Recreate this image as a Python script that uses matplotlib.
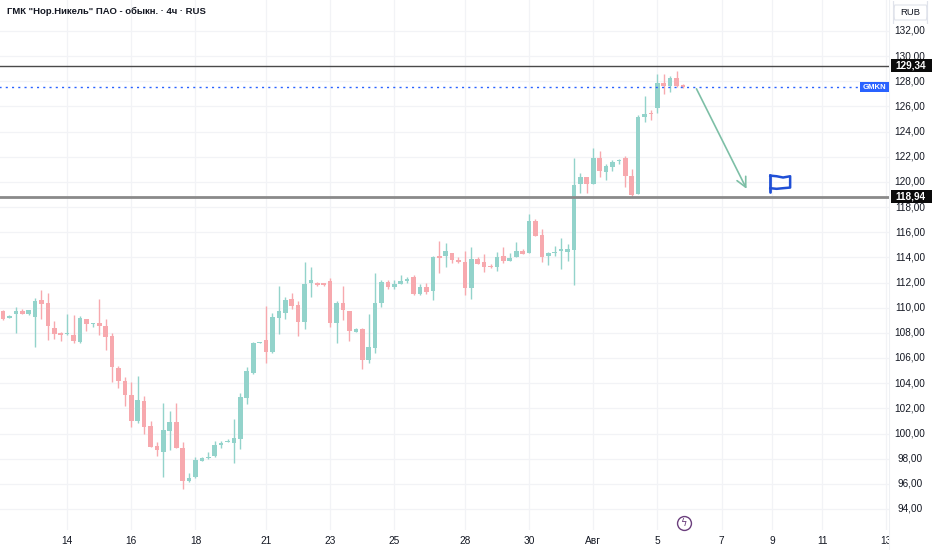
import matplotlib
matplotlib.use("Agg")
import matplotlib.pyplot as plt
from matplotlib.patches import Rectangle, FancyBboxPatch

plt.rcParams['font.family'] = ['Liberation Sans', 'DejaVu Sans']

# 4h candles, GMKN
opens = [109.77, 109.20, 109.53, 109.74, 109.50, 109.29, 110.62, 110.35, 108.39, 107.97,
         107.90, 107.86, 107.28, 109.08, 108.74, 108.81, 108.55, 107.76, 105.21, 104.20,
         103.07, 101.00, 102.60, 100.60, 99.01, 98.56, 100.23, 100.92, 98.88, 96.23,
         96.52, 97.84, 98.03, 98.24, 99.09, 99.32, 99.27, 99.57, 102.85, 104.84,
         107.20, 107.44, 106.51, 109.21, 109.56, 110.67, 110.22, 108.85, 111.99, 111.97,
         111.95, 112.15, 108.76, 110.40, 109.72, 108.07, 108.29, 105.85, 106.83, 110.35,
         112.05, 111.63, 111.87, 112.10, 112.47, 111.10, 111.63, 111.36, 114.11, 114.11,
         114.33, 113.80, 113.66, 111.60, 113.90, 113.61, 113.32, 113.26, 114.11, 113.74,
         114.06, 114.54, 114.38, 116.87, 115.78, 114.11, 114.36, 114.54, 114.46, 114.59,
         119.81, 120.42, 119.84, 121.88, 120.82, 121.16, 121.66, 121.88, 120.50, 119.02,
         125.14, 125.45, 125.86, 127.89, 127.63, 128.24, 127.71]
highs = [109.85, 109.45, 110.08, 109.93, 109.85, 110.75, 111.40, 111.15, 108.97, 108.10,
         109.50, 109.42, 109.35, 109.12, 108.82, 110.70, 109.08, 107.97, 105.40, 104.52,
         104.07, 104.60, 102.98, 101.00, 99.35, 102.45, 101.80, 102.40, 99.31, 96.89,
         98.16, 98.16, 98.53, 99.41, 99.43, 99.60, 101.16, 103.20, 105.32, 107.30,
         107.26, 110.14, 109.56, 111.73, 110.88, 111.20, 110.56, 113.66, 113.26, 112.05,
         111.97, 112.34, 110.54, 111.73, 109.72, 108.42, 108.42, 109.50, 112.79, 112.21,
         112.21, 112.21, 112.60, 112.47, 112.60, 111.89, 111.98, 114.14, 115.30, 115.12,
         114.33, 114.00, 114.51, 114.86, 114.05, 114.27, 113.50, 114.46, 114.80, 114.38,
         115.25, 114.65, 117.45, 117.03, 116.23, 114.46, 114.92, 115.52, 115.07, 121.88,
         120.69, 120.42, 122.68, 122.42, 121.40, 121.74, 121.80, 122.06, 121.03, 125.30,
         126.83, 125.75, 128.58, 128.58, 128.42, 128.82, 127.80]
lows = [109.05, 109.15, 108.02, 109.50, 109.45, 106.90, 109.08, 107.44, 107.52, 107.38,
        107.83, 107.18, 107.18, 108.18, 108.50, 107.83, 106.60, 104.10, 103.60, 102.20,
        100.55, 100.81, 99.94, 98.90, 98.22, 96.57, 98.69, 98.83, 95.57, 96.17,
        96.44, 97.80, 97.95, 98.16, 98.83, 99.30, 97.65, 98.77, 102.35, 104.76,
        107.18, 105.63, 106.38, 107.89, 109.10, 109.88, 107.78, 108.29, 110.88, 111.75,
        111.70, 108.44, 107.22, 109.02, 107.38, 108.07, 105.13, 105.63, 106.38, 110.04,
        111.45, 111.50, 111.87, 112.00, 110.99, 111.05, 111.10, 110.62, 112.79, 113.26,
        113.58, 113.55, 111.01, 110.72, 113.45, 112.82, 113.18, 112.95, 113.53, 113.74,
        114.06, 114.27, 114.38, 115.70, 113.66, 113.40, 114.11, 113.08, 113.74, 111.81,
        119.15, 119.15, 119.84, 120.42, 120.16, 120.90, 121.40, 119.58, 118.83, 119.02,
        124.79, 124.90, 125.46, 126.99, 127.17, 127.58, 127.50]
closes = [109.10, 109.37, 109.77, 109.53, 109.82, 110.56, 110.30, 108.55, 107.94, 107.83,
          107.95, 107.36, 109.19, 108.68, 108.80, 108.55, 107.70, 105.27, 104.18, 103.05,
          101.00, 102.67, 100.55, 98.96, 98.69, 100.28, 100.92, 98.88, 96.23, 96.44,
          97.86, 98.08, 98.16, 99.09, 99.22, 99.38, 99.65, 102.93, 105.00, 107.22,
          107.24, 106.51, 109.24, 109.77, 110.62, 110.14, 108.90, 111.89, 112.21, 111.81,
          111.81, 108.76, 110.40, 109.82, 108.18, 108.34, 105.85, 106.86, 110.35, 112.05,
          111.68, 111.89, 112.13, 112.31, 111.07, 111.68, 111.28, 114.06, 113.98, 114.51,
          113.80, 113.61, 111.60, 113.85, 113.48, 113.26, 113.21, 114.06, 113.74, 113.96,
          114.54, 114.27, 116.87, 115.70, 114.06, 114.38, 114.40, 114.65, 114.65, 119.76,
          120.42, 119.84, 121.88, 120.90, 121.27, 121.61, 121.70, 120.50, 118.96, 125.14,
          125.40, 125.40, 127.89, 127.63, 128.24, 127.63, 127.55]

tick_labels = ['14', '16', '18', '21', '23', '25', '28', '30', 'Авг', '5', '7', '9', '11', '13']
tick_bars = [10, 20, 30, 41, 51, 61, 72, 82, 92, 102, 112, 119.9, 127.7, 137.6]

price_ticks = list(range(94, 133, 2))
level_hi = 129.34
level_lo = 118.94
last_price = closes[-1]
title = 'ГМК "Нор.Никель" ПАО - обыкн. · 4ч · RUS'

up_col = '#93d3cb'
dn_col = '#f7a9ae'
txt_col = '#131722'
grid_col = '#f2f3f6'

fig = plt.figure(figsize=(9.32, 5.5), dpi=100)
ax = fig.add_axes([0, 20 / 550, 889 / 932, 530 / 550])
ax.set_xlim(-0.468, 138.11)
ax.set_ylim(92.33, 134.46)

for p in price_ticks:
    ax.axhline(p, color=grid_col, lw=0.9, zorder=0)
for t in tick_bars:
    ax.axvline(t, color=grid_col, lw=0.9, zorder=0)

# candles
for i in range(len(opens)):
    o, h, l, c = opens[i], highs[i], lows[i], closes[i]
    col = up_col if c >= o else dn_col
    ax.vlines(i, l, h, color=col, lw=1.0, zorder=2)
    bot = min(o, c)
    hgt = max(abs(c - o), 0.08)
    ax.add_patch(Rectangle((i - 0.36, bot), 0.72, hgt, facecolor=col, edgecolor='none', zorder=3))

# levels
ax.axhline(level_hi - 0.1, color='#4a4a4a', lw=1.0, zorder=4)
ax.axhline(level_lo - 0.1, color='#8a8a8a', lw=2.0, zorder=4)
ax.plot([-1, 133.3], [last_price, last_price], color='#2962ff', lw=1.0,
        linestyle=(0, (1.5, 3)), zorder=4)
ax.add_patch(Rectangle((133.6, last_price - 0.4), 4.6, 0.8, facecolor='#2962ff',
                       edgecolor='none', zorder=5))
ax.text(135.85, last_price - 0.02, 'GMKN', color='white', fontsize=5.6, ha='center',
        va='center', fontweight='bold', zorder=6)

# forecast arrow and flag
arrow_start = (107.9, 127.6)
arrow_end = (116.1, 119.25)
ax.annotate('', xy=arrow_end, xytext=arrow_start,
            arrowprops=dict(arrowstyle='->,head_length=0.7,head_width=0.35',
                            color='#7dbfa6', lw=1.2), zorder=5)
fx, fy = 119.6, 119.2
ax.plot([fx, fx], [fy, fy + 1.35], color='#1f4fd6', lw=2, solid_capstyle='round', zorder=5)
ax.plot([fx, fx + 1.0, fx + 2.0, fx + 3.1, fx + 3.1, fx + 2.0, fx + 1.0, fx],
        [fy + 1.3, fy + 1.25, fy + 1.15, fy + 1.25, fy + 0.35, fy + 0.3, fy + 0.25, fy + 0.3],
        color='#1f4fd6', lw=1.8, zorder=5)

# event icon
ax.plot([106.1], [92.9], marker='o', ms=10, mfc='white', mec='#6b3f7d', mew=1.0,
        zorder=6, clip_on=False)
ax.text(106.1, 92.9, 'ϟ', color='#6b3f7d', fontsize=7, ha='center', va='center',
        family='DejaVu Sans', zorder=7)

ax.set_xticks(tick_bars)
ax.set_xticklabels(tick_labels)
ax.tick_params(axis='x', length=0, pad=4, labelsize=7.3, colors=txt_col)
ax.set_yticks([])
for s in ax.spines.values():
    s.set_visible(False)

ax.text(7 / 889, 1 - 11 / 530, title, transform=ax.transAxes, fontsize=6.8,
        fontweight='bold', color=txt_col, ha='left', va='center')

# price scale
ax2 = fig.add_axes([889 / 932, 0, 43 / 932, 1])
ax2.set_xlim(0, 43)
ax2.set_ylim(134.46 - 550 / 12.579, 134.46)
ax2.set_facecolor('white')
ax2.axis('off')
ax2.add_patch(Rectangle((0, 0), 43, 200, facecolor='white', edgecolor='none', zorder=0))
ax2.axvline(0.3, color='#eef0f3', lw=0.8)
for p in price_ticks:
    ax2.text(21, p, f'{p:.2f}'.replace('.', ','), fontsize=7.2, color=txt_col,
             ha='center', va='center', zorder=2)
for lv in [level_hi, level_lo]:
    ax2.add_patch(Rectangle((1.5, lv - 0.6), 42, 1.04, facecolor='#0a0a0a',
                            edgecolor='none', zorder=3))
    ax2.text(21.5, lv - 0.08, f'{lv:.2f}'.replace('.', ','), fontsize=7.2, color='white',
             ha='center', va='center', fontweight='bold', zorder=4)
ax2.add_patch(FancyBboxPatch((4.5, 134.46 - 20 / 12.579), 34, 15 / 12.579,
                             boxstyle='round,pad=0,rounding_size=1.5',
                             facecolor='white', edgecolor='#e0e3eb', lw=0.8, zorder=3))
ax2.text(21.5, 134.46 - 12.5 / 12.579, 'RUB', fontsize=6.8, color=txt_col,
         ha='center', va='center', zorder=4)

fig.savefig('out.png', dpi=100, facecolor='white')
